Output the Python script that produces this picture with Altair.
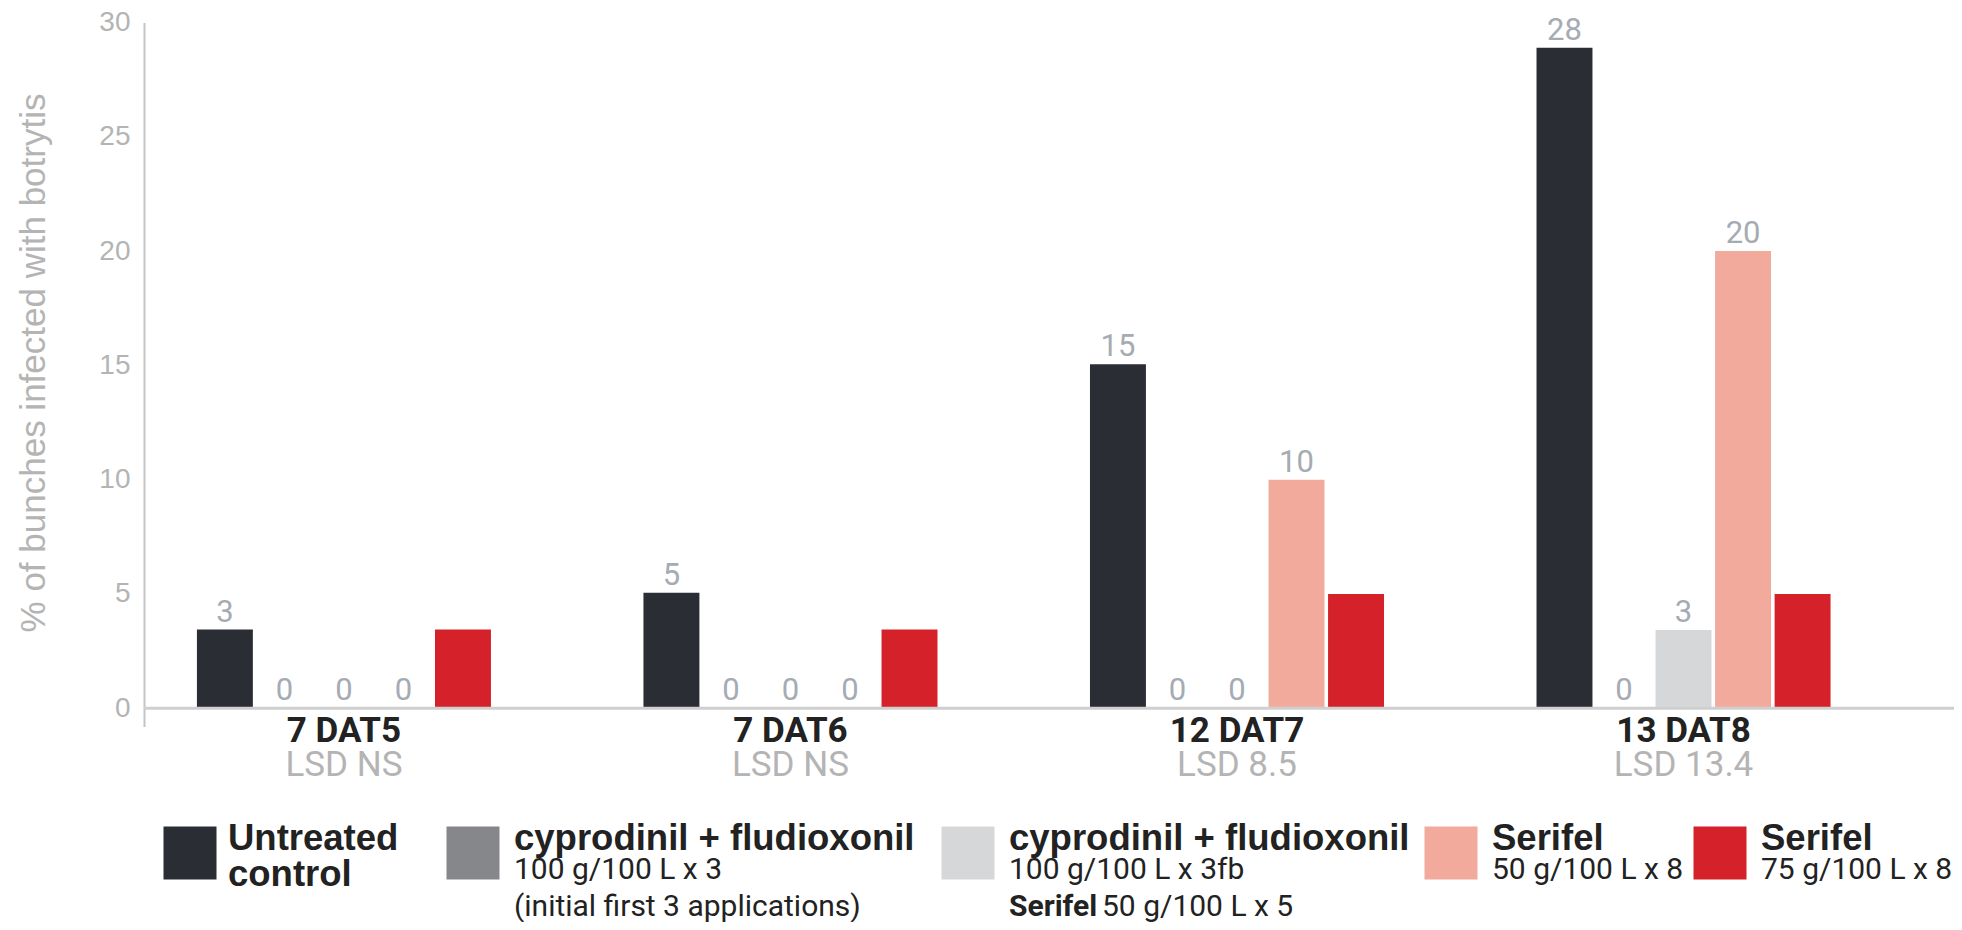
import altair as alt
import pandas as pd

# ---------------- data ----------------
groups = ["7 DAT5", "7 DAT6", "12 DAT7", "13 DAT8"]
lsd_labels = ["LSD NS", "LSD NS", "LSD 8.5", "LSD 13.4"]

treatments = [
    "Untreated control",
    "cyprodinil + fludioxonil 100 g/100 L x 3",
    "cyprodinil + fludioxonil 100 g/100 L x 3fb Serifel 50 g/100 L x 5",
    "Serifel 50 g/100 L x 8",
    "Serifel 75 g/100 L x 8",
]
colors = ["#2b2d34", "#86878a", "#d6d7d9", "#f2aa9d", "#d52129"]

# bar heights (per group)
untreated = [3.44, 5.05, 15.05, 28.9]
cyp_x3 = [0, 0, 0, 0]
cyp_x3fb = [0, 0, 0, 3.42]
serifel_50 = [0, 0, 10.0, 20.0]
serifel_75 = [3.44, 3.44, 5.0, 5.0]

# printed value labels
untreated_lbl = ["3", "5", "15", "28"]
cyp_x3_lbl = ["0", "0", "0", "0"]
cyp_x3fb_lbl = ["0", "0", "0", "3"]
serifel_50_lbl = ["0", "0", "10", "20"]
serifel_75_lbl = ["", "", "", ""]

y_ticks = [0, 5, 10, 15, 20, 25, 30]

# legend texts
leg_title1 = ["Untreated", "cyprodinil + fludioxonil", "cyprodinil + fludioxonil", "Serifel", "Serifel"]
leg_title2 = ["control", "", "", "", ""]
leg_sub1 = ["", "100 g/100 L x 3", "100 g/100 L x 3fb", "50 g/100 L x 8", "75 g/100 L x 8"]
leg_sub2 = ["", "(initial first 3 applications)", "", "", ""]
leg_sub2_bold = ["", "", "Serifel", "", ""]
leg_sub2_rest = ["", "", "50 g/100 L x 5", "", ""]

# ---------------- tables ----------------
series = [untreated, cyp_x3, cyp_x3fb, serifel_50, serifel_75]
series_lbl = [untreated_lbl, cyp_x3_lbl, cyp_x3fb_lbl, serifel_50_lbl, serifel_75_lbl]
rows = []
for t, vals, lbls in zip(treatments, series, series_lbl):
    for g, v, l in zip(groups, vals, lbls):
        rows.append({"group": g, "treatment": t, "value": v, "label": l})
df = pd.DataFrame(rows)
cat_df = pd.DataFrame({"group": groups, "lsd": lsd_labels})
leg_df = pd.DataFrame({
    "treatment": treatments, "t1": leg_title1, "t2": leg_title2,
    "s1": leg_sub1, "s2": leg_sub2, "s2b": leg_sub2_bold, "s2r": leg_sub2_rest,
})
base_df = pd.DataFrame({"v": [0]})

# ---------------- styles / layout ----------------
W, H = 1806, 704
COND = "Roboto, sans-serif"
REG = "Liberation Sans, Arial, Helvetica, sans-serif"
GRAY = "#b4b4b4"
LBL = "#a5abb3"
DARK = "#222222"
LEG_SQ_X = [46, 329, 824, 1307, 1576]   # legend square centres (px from plot left)
LEG_DX = [38, 41, 41, 41, 41]
LEG_SQ_Y = 830.5

xscale = alt.Scale(type="band", domain=groups, paddingInner=0.3415, paddingOuter=0.193, align=0.307)
xg = alt.X("group:N", sort=groups, scale=xscale, axis=None)
xo = alt.XOffset("treatment:N", sort=treatments,
                 scale=alt.Scale(domain=treatments, paddingInner=0.06, paddingOuter=0))
yscale = alt.Scale(domain=[-0.8, 30], nice=False, zero=False)
color = alt.Color("treatment:N", scale=alt.Scale(domain=treatments, range=colors), legend=None)

bars = alt.Chart(df).mark_bar().encode(
    x=xg, xOffset=xo,
    y=alt.Y("value:Q", scale=yscale,
            axis=alt.Axis(values=y_ticks, grid=False, ticks=False, domainColor="#c4c4c4", domainWidth=2,
                          labelColor=GRAY, labelFont=REG, labelFontSize=28, labelPadding=14,
                          title="% of bunches infected with botrytis", titleColor=GRAY, titleFont=REG,
                          titleFontSize=35, titleFontWeight="normal", titlePadding=48,
                          titleX=-93, titleY=340, titleAngle=-90, titleAlign="center",
                          titleBaseline="bottom")),
    y2=alt.datum(0),
    color=color,
)

labels = alt.Chart(df).mark_text(baseline="bottom", dy=-1, font=COND, fontSize=31, color=LBL).encode(
    x=alt.X("group:N", sort=groups, scale=xscale, axis=None, bandPosition=0.5),
    xOffset=xo, y=alt.Y("value:Q", scale=yscale), text="label:N"
)

baseline = alt.Chart(base_df).mark_rule(color="#cfcfcf", strokeWidth=3).encode(
    y=alt.Y("v:Q", scale=yscale), x=alt.value(0), x2=alt.value(W + 4)
)

xcat = alt.X("group:N", sort=groups, scale=xscale, axis=None, bandPosition=0.5)
cat1 = alt.Chart(cat_df).mark_text(font=COND, fontWeight="bold", fontSize=35, color=DARK,
                                   baseline="middle").encode(x=xcat, y=alt.value(708), text="group:N")
cat2 = alt.Chart(cat_df).mark_text(font=COND, fontSize=35, color=GRAY,
                                   baseline="middle").encode(x=xcat, y=alt.value(742), text="lsd:N")

# legend: one block per treatment
leg_layers = []
for i, t in enumerate(treatments):
    src = alt.Chart(leg_df).transform_filter(alt.datum.treatment == t)
    lx = alt.value(LEG_SQ_X[i])
    d = LEG_DX[i]
    leg_layers.append(src.mark_square(size=53 * 53, opacity=1).encode(x=lx, y=alt.value(LEG_SQ_Y), color=color))

    def ltext(field, y, bold, size, font, dx):
        props = dict(align="left", baseline="middle", dx=dx, font=font, fontSize=size, color=DARK)
        if bold:
            props["fontWeight"] = "bold"
        return src.mark_text(**props).encode(x=lx, y=alt.value(y), text=f"{field}:N")

    if leg_title1[i]:
        leg_layers.append(ltext("t1", 816, True, 36.5, REG, d))
    if leg_title2[i]:
        leg_layers.append(ltext("t2", 852, True, 36.5, REG, d))
    if leg_sub1[i]:
        leg_layers.append(ltext("s1", 847, False, 30, COND, d))
    if leg_sub2[i]:
        leg_layers.append(ltext("s2", 884, False, 30, COND, d))
    if leg_sub2_bold[i]:
        leg_layers.append(ltext("s2b", 884, True, 30, COND, d))
        leg_layers.append(ltext("s2r", 884, False, 30, COND, d + 93))

chart = alt.layer(bars, baseline, labels, cat1, cat2, *leg_layers).properties(
    width=W, height=H,
    autosize=alt.AutoSizeParams(type="none"),
    padding={"left": 136, "top": 14.5, "right": 4, "bottom": 195},
).configure_view(stroke=None)

chart.save("out.html", embed_options={"renderer": "svg", "actions": False})
